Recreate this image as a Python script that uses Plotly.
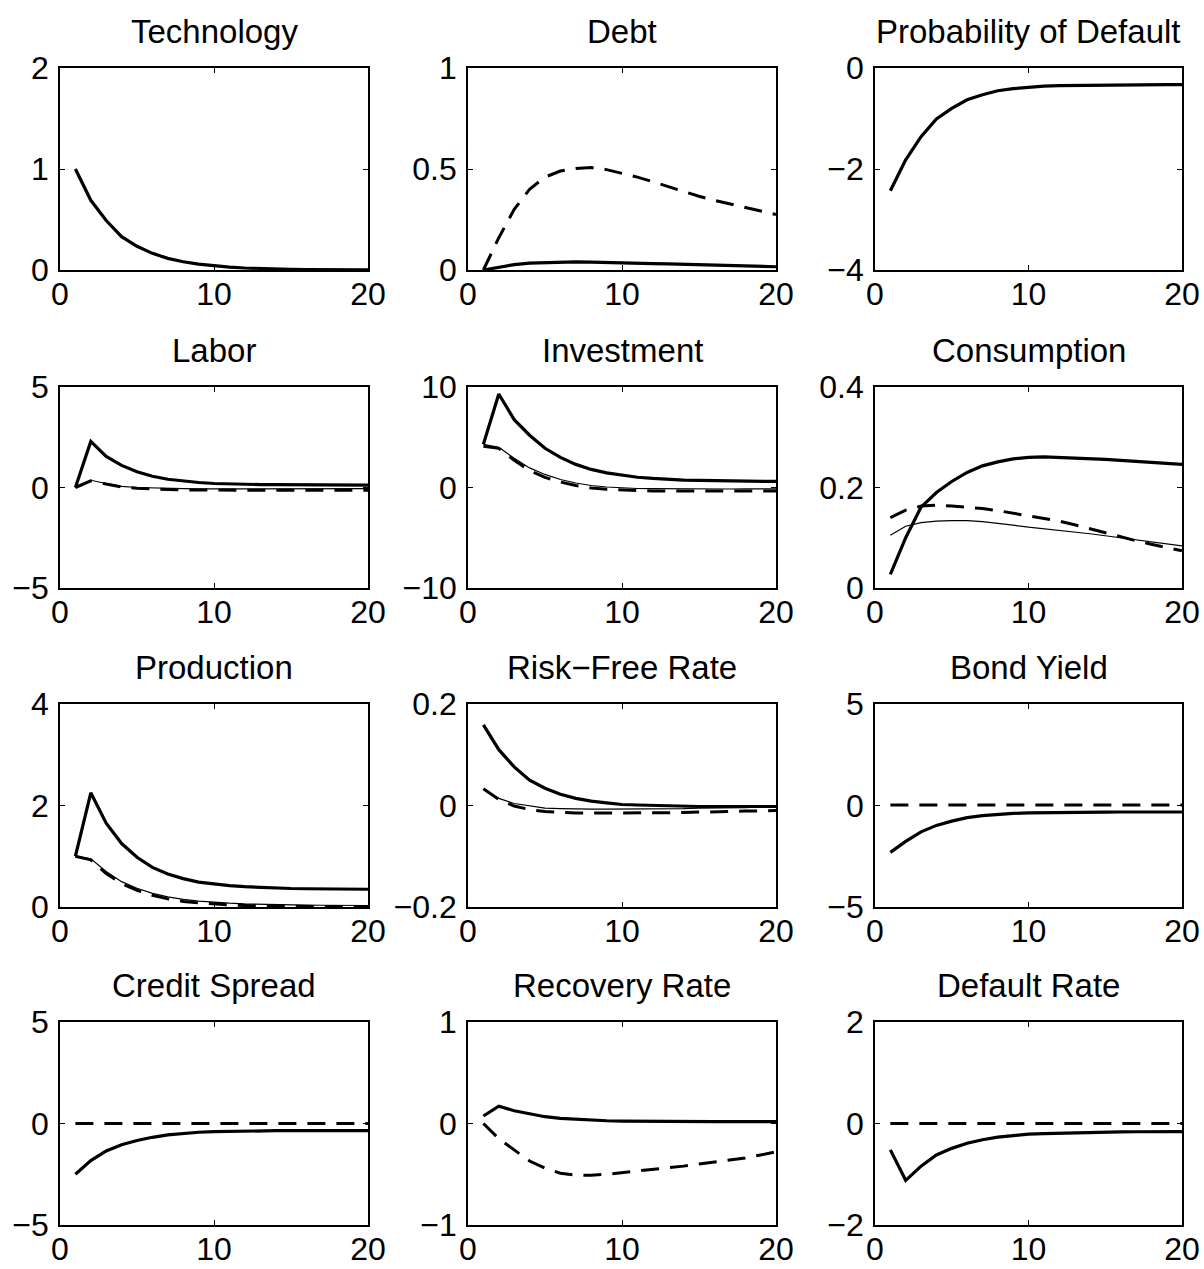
import plotly.graph_objects as go

# ---------------- data ----------------
periods = list(range(1, 21))
x_tick_vals = [0, 10, 20]
x_tick_text = ["0", "10", "20"]

titles = ["Technology", "Debt", "Probability of Default",
          "Labor", "Investment", "Consumption",
          "Production", "Risk\u2212Free Rate", "Bond Yield",
          "Credit Spread", "Recovery Rate", "Default Rate"]

y_tick_vals = [[0, 1, 2], [0, 0.5, 1], [-4, -2, 0],
               [-5, 0, 5], [-10, 0, 10], [0, 0.2, 0.4],
               [0, 2, 4], [-0.2, 0, 0.2], [-5, 0, 5],
               [-5, 0, 5], [-1, 0, 1], [-2, 0, 2]]
y_tick_text = [["0", "1", "2"], ["0", "0.5", "1"], ["\u22124", "\u22122", "0"],
               ["\u22125", "0", "5"], ["\u221210", "0", "10"], ["0", "0.2", "0.4"],
               ["0", "2", "4"], ["\u22120.2", "0", "0.2"], ["\u22125", "0", "5"],
               ["\u22125", "0", "5"], ["\u22121", "0", "1"], ["\u22122", "0", "2"]]

technology_thick = [1.0, 0.69, 0.49, 0.33, 0.235, 0.165, 0.115, 0.082, 0.058, 0.041,
                    0.029, 0.02, 0.014, 0.01, 0.007, 0.005, 0.004, 0.003, 0.002, 0.002]

debt_thick = [0.0, 0.015, 0.027, 0.034, 0.037, 0.039, 0.04, 0.039, 0.038, 0.036,
              0.034, 0.032, 0.03, 0.028, 0.026, 0.024, 0.022, 0.02, 0.018, 0.016]
debt_dash = [0.0, 0.16, 0.30, 0.40, 0.46, 0.49, 0.503, 0.507, 0.497, 0.48,
             0.46, 0.437, 0.413, 0.39, 0.365, 0.345, 0.328, 0.31, 0.293, 0.275]

pd_thick = [-2.43, -1.82, -1.36, -1.01, -0.8, -0.63, -0.53, -0.45, -0.41, -0.38,
            -0.36, -0.35, -0.345, -0.34, -0.335, -0.333, -0.332, -0.331, -0.33, -0.33]

labor_thick = [0.0, 2.29, 1.55, 1.1, 0.78, 0.56, 0.41, 0.31, 0.25, 0.2,
               0.17, 0.155, 0.145, 0.14, 0.135, 0.13, 0.128, 0.125, 0.122, 0.12]
labor_thin = [0.0, 0.36, 0.2, 0.06, 0.0, -0.03, -0.05, -0.06, -0.07, -0.07,
              -0.07, -0.07, -0.07, -0.07, -0.07, -0.07, -0.06, -0.06, -0.06, -0.06]
labor_dash = [0.0, 0.33, 0.17, 0.03, -0.04, -0.08, -0.1, -0.12, -0.13, -0.13,
              -0.14, -0.14, -0.14, -0.14, -0.14, -0.14, -0.14, -0.14, -0.14, -0.14]

invest_thick = [4.3, 9.3, 6.75, 5.2, 3.9, 3.0, 2.3, 1.8, 1.45, 1.2,
                1.02, 0.9, 0.8, 0.74, 0.7, 0.67, 0.65, 0.63, 0.62, 0.6]
invest_thin = [4.3, 4.0, 2.9, 1.95, 1.3, 0.8, 0.45, 0.2, 0.05, -0.05,
               -0.1, -0.12, -0.14, -0.15, -0.15, -0.15, -0.15, -0.14, -0.14, -0.13]
invest_dash = [4.1, 3.9, 2.7, 1.7, 1.0, 0.55, 0.2, -0.05, -0.18, -0.26,
               -0.31, -0.34, -0.35, -0.36, -0.36, -0.36, -0.36, -0.35, -0.35, -0.34]

cons_thick = [0.027, 0.1, 0.161, 0.19, 0.212, 0.23, 0.243, 0.251, 0.257, 0.26,
              0.261, 0.26, 0.259, 0.258, 0.256, 0.254, 0.252, 0.25, 0.248, 0.246]
cons_thin = [0.105, 0.123, 0.13, 0.133, 0.134, 0.134, 0.132, 0.129, 0.125, 0.121,
             0.118, 0.115, 0.111, 0.108, 0.104, 0.1, 0.096, 0.092, 0.088, 0.084]
cons_dash = [0.14, 0.155, 0.163, 0.165, 0.163, 0.161, 0.158, 0.154, 0.149, 0.144,
             0.139, 0.133, 0.126, 0.118, 0.109, 0.101, 0.094, 0.087, 0.08, 0.074]

prod_thick = [1.0, 2.25, 1.65, 1.25, 0.98, 0.78, 0.65, 0.56, 0.49, 0.45,
              0.42, 0.4, 0.385, 0.375, 0.365, 0.36, 0.355, 0.352, 0.35, 0.35]
prod_thin = [1.0, 0.95, 0.7, 0.5, 0.37, 0.27, 0.2, 0.15, 0.115, 0.09,
             0.075, 0.062, 0.053, 0.046, 0.041, 0.037, 0.034, 0.032, 0.031, 0.03]
prod_dash = [1.0, 0.93, 0.66, 0.46, 0.33, 0.23, 0.16, 0.11, 0.08, 0.055,
             0.04, 0.03, 0.022, 0.017, 0.014, 0.012, 0.011, 0.01, 0.01, 0.01]

rf_thick = [0.159, 0.11, 0.076, 0.05, 0.034, 0.022, 0.014, 0.0085, 0.005, 0.002,
            0.001, 0.0, -0.001, -0.001, -0.002, -0.002, -0.002, -0.002, -0.002, -0.002]
rf_thin = [0.032, 0.014, 0.004, -0.001, -0.005, -0.006, -0.007, -0.007, -0.007, -0.007,
           -0.007, -0.006, -0.006, -0.006, -0.005, -0.005, -0.004, -0.004, -0.003, -0.003]
rf_dash = [0.033, 0.012, -0.001, -0.008, -0.012, -0.014, -0.015, -0.015, -0.015, -0.015,
           -0.015, -0.015, -0.014, -0.014, -0.013, -0.013, -0.012, -0.011, -0.011, -0.01]

bond_thick = [-2.31, -1.77, -1.3, -0.98, -0.77, -0.6, -0.5, -0.43, -0.39, -0.36,
              -0.345, -0.335, -0.33, -0.325, -0.322, -0.32, -0.32, -0.32, -0.32, -0.32]
bond_dash = [0.02, 0.02, 0.02, 0.02, 0.02, 0.02, 0.02, 0.02, 0.02, 0.02,
             0.02, 0.02, 0.02, 0.02, 0.02, 0.02, 0.02, 0.02, 0.02, 0.02]

spread_thick = [-2.5, -1.83, -1.35, -1.05, -0.84, -0.68, -0.56, -0.48, -0.43, -0.4,
                -0.38, -0.37, -0.36, -0.355, -0.352, -0.35, -0.35, -0.35, -0.35, -0.35]
spread_dash = [0.0, 0.0, 0.0, 0.0, 0.0, 0.0, 0.0, 0.0, 0.0, 0.0,
               0.0, 0.0, 0.0, 0.0, 0.0, 0.0, 0.0, 0.0, 0.0, 0.0]

recovery_thick = [0.074, 0.17, 0.126, 0.093, 0.067, 0.05, 0.04, 0.032, 0.027, 0.024,
                  0.022, 0.021, 0.02, 0.019, 0.019, 0.018, 0.018, 0.018, 0.018, 0.018]
recovery_dash = [0.0, -0.15, -0.26, -0.37, -0.44, -0.49, -0.51, -0.51, -0.5, -0.485,
                 -0.47, -0.455, -0.44, -0.42, -0.4, -0.38, -0.36, -0.34, -0.31, -0.28]

default_thick = [-0.52, -1.12, -0.84, -0.62, -0.49, -0.39, -0.32, -0.27, -0.24, -0.21,
                 -0.2, -0.19, -0.18, -0.175, -0.17, -0.165, -0.163, -0.162, -0.16, -0.16]
default_dash = [0.0, 0.0, 0.0, 0.0, 0.0, 0.0, 0.0, 0.0, 0.0, 0.0,
                0.0, 0.0, 0.0, 0.0, 0.0, 0.0, 0.0, 0.0, 0.0, 0.0]

panel_series = [
    [("thick", technology_thick)],
    [("dash", debt_dash), ("thick", debt_thick)],
    [("thick", pd_thick)],
    [("thick", labor_thick), ("thin", labor_thin), ("dash", labor_dash)],
    [("thick", invest_thick), ("thin", invest_thin), ("dash", invest_dash)],
    [("thick", cons_thick), ("thin", cons_thin), ("dash", cons_dash)],
    [("thick", prod_thick), ("thin", prod_thin), ("dash", prod_dash)],
    [("thick", rf_thick), ("thin", rf_thin), ("dash", rf_dash)],
    [("thick", bond_thick), ("dash", bond_dash)],
    [("thick", spread_thick), ("dash", spread_dash)],
    [("thick", recovery_thick), ("dash", recovery_dash)],
    [("thick", default_thick), ("dash", default_dash)],
]

# ---------------- layout geometry (pixels) ----------------
W, H = 1204, 1269
col_px = [(60, 368), (468, 776), (875, 1182)]
row_px = [(68, 270), (387, 588), (704, 907), (1022, 1225)]

FONT = "Liberation Sans, Arial, Helvetica, sans-serif"
TICK_SIZE = 32
TITLE_SIZE = 33

styles = {
    "thick": dict(color="black", width=3.2, dash="solid"),
    "thin": dict(color="black", width=1.2, dash="solid"),
    "dash": dict(color="black", width=3.0, dash="18px,11px"),
}

fig = go.Figure()
annotations = []
layout_axes = {}

for i in range(12):
    r, c = divmod(i, 3)
    n = i + 1
    xa = "x" if n == 1 else f"x{n}"
    ya = "y" if n == 1 else f"y{n}"
    for style, vals in panel_series[i]:
        fig.add_trace(go.Scatter(x=periods, y=vals, mode="lines", line=styles[style],
                                 xaxis=xa, yaxis=ya, showlegend=False, hoverinfo="skip"))
    x0, x1 = col_px[c]
    y0, y1 = row_px[r]
    xdom = [x0 / W, x1 / W]
    ydom = [1 - y1 / H, 1 - y0 / H]
    yv = y_tick_vals[i]
    common = dict(showline=True, linecolor="black", linewidth=1.6, mirror="ticks",
                  ticks="inside", ticklen=5, tickwidth=1.4, tickcolor="black",
                  showgrid=False, zeroline=False, fixedrange=True, automargin=False,
                  tickfont=dict(family=FONT, size=TICK_SIZE, color="black"))
    layout_axes["xaxis" if n == 1 else f"xaxis{n}"] = dict(
        domain=xdom, range=[0, 20], tickmode="array", tickvals=x_tick_vals,
        ticktext=x_tick_text, anchor=ya, ticklabelstandoff=-5, **common)
    layout_axes["yaxis" if n == 1 else f"yaxis{n}"] = dict(
        domain=ydom, range=[yv[0], yv[-1]], tickmode="array", tickvals=yv,
        ticktext=y_tick_text[i], anchor=xa, ticklabelstandoff=3, **common)
    annotations.append(dict(text=titles[i], xref="paper", yref="paper",
                            x=(xdom[0] + xdom[1]) / 2, y=ydom[1],
                            xanchor="center", yanchor="bottom", yshift=16,
                            showarrow=False,
                            font=dict(family=FONT, size=TITLE_SIZE, color="black")))

fig.update_layout(width=W, height=H, margin=dict(l=0, r=0, t=0, b=0),
                  paper_bgcolor="white", plot_bgcolor="white",
                  annotations=annotations, **layout_axes)

fig.write_html("out.html")
